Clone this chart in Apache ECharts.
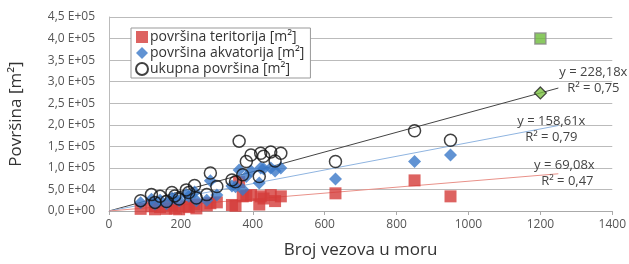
<!DOCTYPE html>
<html>
<head>
<meta charset="utf-8">
<script src="https://cdn.jsdelivr.net/npm/echarts@6/dist/echarts.min.js"></script>
<style>
  html, body { margin: 0; padding: 0; background: #fff; }
  #chart { width: 629px; height: 264px; }
</style>
</head>
<body>
<div id="chart"></div>
<script>
// broj vezova (x) za svaku luku
var vezovi = [88, 118, 128, 142, 160, 175, 183, 195, 215, 222, 238, 243, 272, 282, 300,
  342, 352, 362, 372, 382, 395, 418, 422, 430, 450, 462, 478, 630, 850, 950];
var teritorij = [5000, 11000, 4000, 9000, 5000, 13000, 6000, 4000, 11000, 9000, 15000, 6000, 13000, 18000, 20000,
  14000, 12000, 67000, 34000, 35000, 37000, 15000, 34000, 29000, 37000, 23000, 34000, 41000, 71000, 34000];
var akvatorij = [19000, 27000, 16000, 25000, 17000, 30000, 29000, 24000, 38000, 34000, 44000, 24000, 25000, 70000, 37000,
  58000, 56000, 95000, 50000, 80000, 93000, 65000, 100000, 98000, 100000, 93000, 100000, 74000, 115000, 130000];
var ukupno = [24000, 38000, 20000, 34000, 22000, 43000, 35000, 28000, 49000, 43000, 59000, 30000, 38000, 88000, 57000,
  72000, 68000, 162000, 84000, 115000, 130000, 80000, 134000, 127000, 137000, 116000, 134000, 115000, 186000, 164000];

// procjena za 1200 vezova
var procjenaX = 1200;
var procjenaKvadrat = 400000;
var procjenaRomb = 273816;

// linearni trendovi kroz ishodište
var nagibi = [228.18, 158.61, 69.08];
var r2 = ['0,75', '0,79', '0,47'];
var krajTrenda = 1250;

var FONT = 'Open Sans';

function parovi(xs, ys) {
  return xs.map(function (x, i) { return [x, ys[i]]; });
}

function fmtBroj(k) {
  return k.toFixed(2).replace('.', ',');
}

function trend(k, boja) {
  return {
    type: 'line',
    silent: true,
    symbol: 'none',
    lineStyle: { color: boja, width: 1 },
    z: 1,
    data: [[0, 0], [krajTrenda, k * krajTrenda]]
  };
}

function osY(v) {
  if (v === 0) return '0,0 E+00';
  if (v < 100000) return (v / 10000).toFixed(1).replace('.', ',') + ' E+04';
  return (v / 100000).toFixed(1).replace('.', ',') + ' E+05';
}

var chart = echarts.init(document.getElementById('chart'));

var option = {
  animation: false,
  textStyle: { fontFamily: FONT },
  grid: { left: 106, right: 14, top: 17, bottom: 52 },
  legend: {
    orient: 'vertical',
    left: 131,
    top: 28,
    padding: [2, 6, 2, 4],
    itemGap: 2,
    itemWidth: 12,
    itemHeight: 12,
    borderColor: '#999',
    borderWidth: 1,
    backgroundColor: '#fff',
    textStyle: { fontSize: 14, color: '#333', padding: [0, 0, 0, -3], fontFamily: FONT },
    data: ['površina teritorija [m²]', 'površina akvatorija [m²]', 'ukupna površina [m²]']
  },
  xAxis: {
    type: 'value',
    min: 0,
    max: 1400,
    interval: 200,
    name: 'Broj vezova u moru',
    nameLocation: 'middle',
    nameGap: 31,
    nameTextStyle: { fontSize: 17, color: '#333', fontFamily: FONT },
    axisLine: { lineStyle: { color: '#aaa' } },
    axisTick: { show: true, length: 4, lineStyle: { color: '#aaa' } },
    axisLabel: { color: '#555', fontSize: 12, margin: 8, formatter: function (v) { return String(v); } },
    splitLine: { show: false }
  },
  yAxis: {
    type: 'value',
    min: 0,
    max: 450000,
    interval: 50000,
    name: 'Površina [m²]',
    nameLocation: 'middle',
    nameGap: 84,
    nameTextStyle: { fontSize: 17, color: '#333', fontFamily: FONT },
    axisLine: { show: true, lineStyle: { color: '#bbb' } },
    axisTick: { show: false },
    axisLabel: { color: '#555', fontSize: 12, margin: 14, formatter: osY },
    splitLine: { lineStyle: { color: '#bbb' } }
  },
  series: [
    trend(nagibi[0], '#444'),
    trend(nagibi[1], '#8fb4e0'),
    trend(nagibi[2], '#e99189'),
    {
      name: 'površina teritorija [m²]',
      type: 'scatter',
      symbol: 'rect',
      symbolSize: 12,
      itemStyle: { color: '#d43c3a' },
      z: 2,
      data: parovi(vezovi, teritorij)
    },
    {
      name: 'površina akvatorija [m²]',
      type: 'scatter',
      symbol: 'diamond',
      symbolSize: 13,
      itemStyle: { color: '#3a78c8' },
      z: 3,
      data: parovi(vezovi, akvatorij)
    },
    {
      name: 'ukupna površina [m²]',
      type: 'scatter',
      symbol: 'circle',
      symbolSize: 12,
      itemStyle: { color: 'rgba(255,255,255,0)', borderColor: '#111', borderWidth: 1.5 },
      z: 4,
      data: parovi(vezovi, ukupno)
    },
    {
      type: 'scatter',
      symbol: 'rect',
      symbolSize: 11,
      itemStyle: { color: '#6dbb3a', borderColor: '#888', borderWidth: 1.5 },
      z: 5,
      data: [[procjenaX, procjenaKvadrat]]
    },
    {
      type: 'scatter',
      symbol: 'diamond',
      symbolSize: 12,
      itemStyle: { color: '#7cc242', borderColor: '#222', borderWidth: 1.2 },
      z: 5,
      data: [[procjenaX, procjenaRomb]]
    }
  ]
};

chart.setOption(option);

// natpisi jednadžbi trenda, smješteni uz kraj svake linije
var pomaci = [[[35, -16], [35, 0]], [[-7, -4], [-7, 12]], [[6, -8], [9, 8]]];
var natpisi = [];
nagibi.forEach(function (k, i) {
  var kraj = chart.convertToPixel({ gridIndex: 0 }, [krajTrenda, k * krajTrenda]);
  var redovi = ['y = ' + fmtBroj(k) + 'x', 'R² = ' + r2[i]];
  redovi.forEach(function (t, j) {
    natpisi.push({
      type: 'text',
      x: kraj[0] + pomaci[i][j][0],
      y: kraj[1] + pomaci[i][j][1],
      z: 10,
      style: {
        text: t,
        fill: '#444',
        font: '13px "' + FONT + '"',
        align: 'center',
        verticalAlign: 'middle'
      }
    });
  });
});
chart.setOption({ graphic: natpisi });
</script>
</body>
</html>
